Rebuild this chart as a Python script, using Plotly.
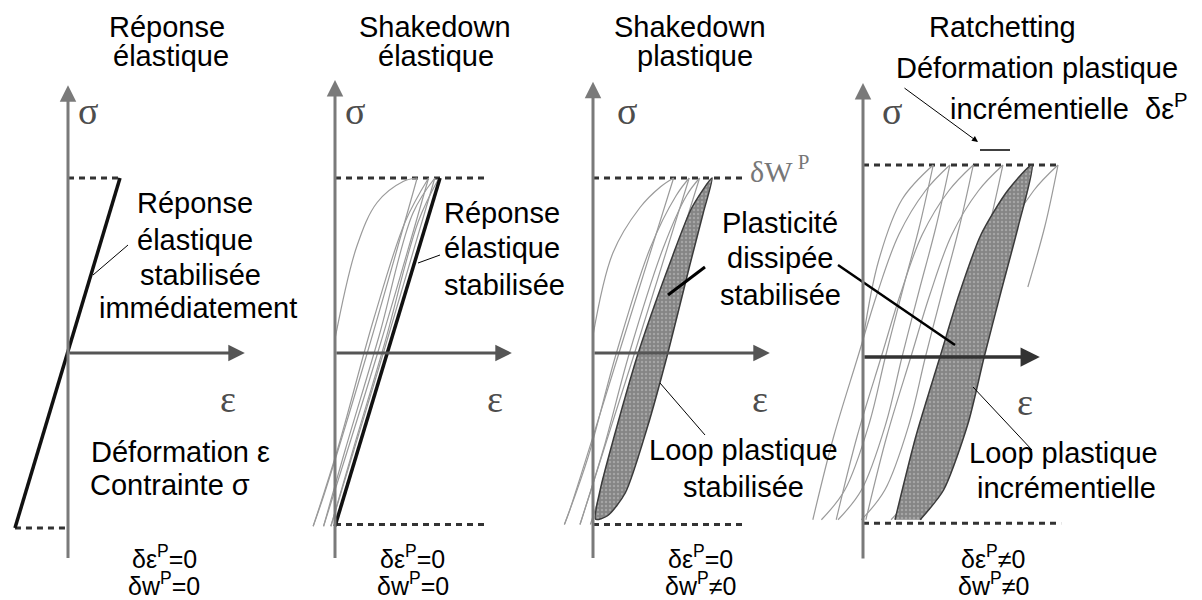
import plotly.graph_objects as go

# ---------------- canvas ----------------
W, H = 1202, 600
PX_PER_EPS = 52.0      # pixels per strain unit
PX_PER_SIG = 175.0     # pixels per stress unit

# ---------------- panel frame data (eps / sigma units) ----------------
PANEL_TITLES = [["Réponse", "élastique"], ["Shakedown", "élastique"],
                ["Shakedown", "plastique"], ["Ratchetting"]]
PANEL_ORIGIN_X = [68, 335, 593, 863]          # where the axes cross (px)
PANEL_ORIGIN_Y = [353, 353, 353, 357]
SIG_MAX = [1.0, 1.0, 1.0, 1.097]
SIG_MIN = [-1.0, -0.98, -0.98, -0.95]
SIG_AXIS_TIP = [1.53, 1.56, 1.55, 1.566]
SIG_AXIS_END = [-1.18, -1.18, -1.18, -1.16]
EPS_AXIS_TIP = [3.4, 3.4, 3.4, 3.4]
DASH_TOP = [(0.0, 1.0), (0.0, 2.92), (0.0, 2.92), (0.0, 3.75)]
DASH_BOT = [(-1.02, 0.0), (0.0, 2.92), (0.0, 2.92), (0.0, 3.81)]

BOTTOM_EPS_P = ["δε<sup>P</sup>=0", "δε<sup>P</sup>=0", "δε<sup>P</sup>=0", "δε<sup>P</sup>≠0"]
BOTTOM_W_P = ["δw<sup>P</sup>=0", "δw<sup>P</sup>=0", "δw<sup>P</sup>≠0", "δw<sup>P</sup>≠0"]

# ---------------- panel 1 : elastic response ----------------
P1_ELASTIC_EPS = [-1.02, 1.0]
P1_ELASTIC_SIG = [-1.0, 1.0]

# ---------------- panel 2 : elastic shakedown ----------------
P2_THIN = [
    [(0.0, 0.08), (0.42, 0.61), (0.81, 0.86), (1.31, 0.98), (1.58, 1.0)],
    [(1.58, 1.0), (0.62, 0.0), (-0.2, -0.8), (-0.42, -0.99)],
    [(-0.42, -0.99), (0.05, -0.55), (0.75, 0.2), (1.35, 0.75), (1.80, 1.0)],
    [(1.80, 1.0), (0.82, 0.0), (-0.22, -0.99)],
    [(-0.22, -0.99), (0.2, -0.55), (0.85, 0.1), (1.5, 0.8), (1.92, 1.0)],
    [(1.92, 1.0), (0.93, 0.0), (-0.08, -0.99)],
    [(-0.08, -0.99), (0.35, -0.55), (0.95, 0.05), (1.6, 0.75), (2.0, 1.0)],
]
P2_STAB_EPS = [0.0, 2.02]
P2_STAB_SIG = [-0.99, 1.0]

# ---------------- panel 3 : plastic shakedown ----------------
P3_THIN = [
    [(0.0, 0.1), (0.38, 0.57), (0.9, 0.83), (1.3, 0.95), (1.55, 1.0)],
    [(1.55, 1.0), (0.5, 0.0), (-0.45, -0.9), (-0.55, -0.98)],
    [(-0.55, -0.98), (-0.1, -0.6), (0.45, 0.0), (1.1, 0.6), (1.6, 0.9), (1.85, 1.0)],
    [(1.85, 1.0), (0.8, 0.0), (-0.25, -0.98)],
    [(-0.25, -0.98), (0.2, -0.55), (0.7, 0.0), (1.35, 0.6), (1.8, 0.9), (2.05, 1.0)],
    [(2.05, 1.0), (1.0, 0.0), (-0.05, -0.98)],
]
P3_LOOP_LEFT = [(0.05, -0.95), (0.14, -0.78), (0.46, -0.42), (0.87, 0.0),
                (1.5, 0.53), (1.9, 0.83), (2.29, 1.0)]
P3_LOOP_RIGHT = [(2.29, 1.0), (2.12, 0.8), (1.86, 0.5), (1.44, 0.0),
                 (1.05, -0.42), (0.62, -0.8), (0.28, -0.93), (0.05, -0.95)]

# ---------------- panel 4 : ratchetting ----------------
P4_FIRST = [(0.0, 0.1), (0.3, 0.55), (0.75, 0.9), (1.35, 1.097)]
P4_LOOP_LEFT = [(0.615, -0.93), (1.02, -0.45), (1.48, 0.0), (1.85, 0.36),
                (2.27, 0.7), (2.78, 0.95), (3.25, 1.097)]
P4_LOOP_RIGHT = [(3.25, 1.097), (2.98, 0.74), (2.66, 0.38), (2.33, 0.0),
                 (2.02, -0.38), (1.55, -0.76), (1.1, -0.93)]
P4_UNLOAD_SHIFTS = [-1.9, -1.58, -1.13, -0.56]
P4_RELOAD_SHIFTS = [-1.58, -1.13, -0.56, 0.5]
P4_LAST_UNLOAD = [(3.75, 1.097), (3.5, 0.75), (3.17, 0.4)]

# ---------------- styles ----------------
SANS = "Liberation Sans, Arial, sans-serif"
SERIF = "Liberation Serif, Times New Roman, serif"
THIN = dict(color="#9a9a9a", width=1.2, shape="spline", smoothing=1.0)

fig = go.Figure()


def ax_names(i):
    return ("x" if i == 0 else f"x{i+1}"), ("y" if i == 0 else f"y{i+1}")


def add_line(i, xs, ys, **line):
    xa, ya = ax_names(i)
    fig.add_trace(go.Scatter(x=xs, y=ys, mode="lines", line=line, xaxis=xa, yaxis=ya,
                             hoverinfo="skip", showlegend=False))


def add_curve(i, pts, **line):
    add_line(i, [p[0] for p in pts], [p[1] for p in pts], **line)


def add_loop(i, left, right):
    pts = left + right[1:]
    xa, ya = ax_names(i)
    fig.add_trace(go.Scatter(
        x=[p[0] for p in pts], y=[p[1] for p in pts], mode="lines", fill="toself",
        line=dict(color="#3a3a3a", width=1.5, shape="spline", smoothing=0.7),
        fillcolor="#858585",
        fillpattern=dict(shape=".", bgcolor="#858585", fgcolor="#c4c4c4", size=4, solidity=0.3),
        xaxis=xa, yaxis=ya, hoverinfo="skip", showlegend=False))


annotations = []
shapes = []

for i in range(4):
    xa, ya = ax_names(i)
    # vertical axis
    annotations.append(dict(x=0, y=SIG_AXIS_TIP[i], ax=0, ay=SIG_AXIS_END[i],
                            xref=xa, yref=ya, axref=xa, ayref=ya, text="", showarrow=True,
                            arrowhead=2, arrowsize=1.1, arrowwidth=3, arrowcolor="#7a7a7a"))
    # horizontal axis
    annotations.append(dict(x=EPS_AXIS_TIP[i], y=0, ax=0, ay=0,
                            xref=xa, yref=ya, axref=xa, ayref=ya, text="", showarrow=True,
                            arrowhead=2, arrowsize=1.1, arrowwidth=3 if i < 3 else 3.5,
                            arrowcolor="#555555" if i < 3 else "#333333"))
    # dashed sigma limits
    add_line(i, list(DASH_TOP[i]), [SIG_MAX[i]] * 2, color="#333333", width=3, dash="6px,5px")
    add_line(i, list(DASH_BOT[i]), [SIG_MIN[i]] * 2, color="#333333", width=3, dash="6px,5px")

# panel 1
add_line(0, P1_ELASTIC_EPS, P1_ELASTIC_SIG, color="#111111", width=3.5)
# panel 2
for c in P2_THIN:
    add_curve(1, c, **THIN)
add_line(1, P2_STAB_EPS, P2_STAB_SIG, color="#111111", width=3.5)
# panel 3
for c in P3_THIN:
    add_curve(2, c, **THIN)
add_loop(2, P3_LOOP_LEFT, P3_LOOP_RIGHT)
# panel 4
add_curve(3, P4_FIRST, **THIN)
for s in P4_UNLOAD_SHIFTS:
    add_curve(3, [(e + s, g) for e, g in P4_LOOP_RIGHT], **THIN)
for s in P4_RELOAD_SHIFTS:
    add_curve(3, [(e + s, g) for e, g in P4_LOOP_LEFT], **THIN)
add_curve(3, P4_LAST_UNLOAD, **THIN)
add_loop(3, P4_LOOP_LEFT, P4_LOOP_RIGHT)


# ---------------- text helpers (layout positions in px) ----------------
def txt(x, baseline, s, size=29, anchor="center", color="black", family=SANS):
    annotations.append(dict(x=x / W, y=1 - (baseline - 0.35 * size) / H, xref="paper", yref="paper",
                            text=s, showarrow=False, xanchor=anchor, yanchor="middle",
                            font=dict(size=size, color=color, family=family)))


def seg(x0, y0, x1, y1, width=1, color="black"):
    shapes.append(dict(type="line", xref="paper", yref="paper", x0=x0 / W, y0=1 - y0 / H,
                       x1=x1 / W, y1=1 - y1 / H, line=dict(color=color, width=width)))


TITLE_X = [[167, 171], [435, 436], [690, 695], [1002]]
for i, lines in enumerate(PANEL_TITLES):
    for j, t in enumerate(lines):
        txt(TITLE_X[i][j], [37, 66][j], t)

GREEK_SIGMA_X = [88, 355, 627, 892]
GREEK_EPS_X = [228, 495, 760, 1025]
for i in range(4):
    txt(GREEK_SIGMA_X[i], 124, "σ", size=38, color="#4d4d4d", family=SERIF)
    txt(GREEK_EPS_X[i], 412 if i < 3 else 415, "ε", size=38, color="#4d4d4d", family=SERIF)

BOTTOM_X = [164, 413, 700, 993]
for i in range(4):
    txt(BOTTOM_X[i], 566, BOTTOM_EPS_P[i], size=25)
    txt(BOTTOM_X[i], 593, BOTTOM_W_P[i], size=25)

# panel 1 notes
for t, bl, cx in [("Réponse", 213, 195), ("élastique", 250, 195),
                  ("stabilisée", 285, 200), ("immédiatement", 318, 198)]:
    txt(cx, bl, t)
txt(89, 462, "Déformation ε", anchor="left")
txt(88, 495, "Contrainte σ", anchor="left")
seg(93, 275, 128, 245)

# panel 2 notes
for t, bl in [("Réponse", 223), ("élastique", 258), ("stabilisée", 295)]:
    txt(442, bl, t, anchor="left")
seg(418, 263, 440, 255)

# panel 3 notes
txt(748, 180, "δW<sup> P</sup>", size=30, anchor="left", color="#777777", family=SERIF)
for t, bl in [("Plasticité", 233), ("dissipée", 268), ("stabilisée", 305)]:
    txt(780, bl, t)
seg(668, 295, 705, 267, width=3)
seg(838, 265, 955, 345, width=2.5)
txt(743, 460, "Loop plastique")
txt(743, 497, "stabilisée")
seg(660, 383, 705, 435)

# panel 4 notes
txt(1037, 78, "Déformation plastique")
txt(948, 117, "incrémentielle  δε<sup>P</sup>", anchor="left")
annotations.append(dict(x=978 / W, y=1 - 142 / H, xref="paper", yref="paper", ax=-75, ay=-55,
                        text="", showarrow=True, arrowhead=2, arrowsize=1.2, arrowwidth=1,
                        arrowcolor="black"))
seg(980, 150, 1010, 150, width=1.5)
txt(1063, 463, "Loop plastique")
txt(1066, 498, "incrémentielle")
seg(973, 387, 1032, 450)

# ---------------- layout: overlaid eps/sigma axes, one per panel ----------------
layout = dict(width=W, height=H, margin=dict(l=0, r=0, t=0, b=0), autosize=False,
              paper_bgcolor="white", plot_bgcolor="white", showlegend=False,
              annotations=annotations, shapes=shapes)
for i in range(4):
    xk = "xaxis" if i == 0 else f"xaxis{i+1}"
    yk = "yaxis" if i == 0 else f"yaxis{i+1}"
    ox, oy = PANEL_ORIGIN_X[i], PANEL_ORIGIN_Y[i]
    xr = [-ox / PX_PER_EPS, (W - ox) / PX_PER_EPS]
    yr = [-(H - oy) / PX_PER_SIG, oy / PX_PER_SIG]
    xd = dict(range=xr, domain=[0, 1], visible=False, fixedrange=True)
    yd = dict(range=yr, domain=[0, 1], visible=False, fixedrange=True)
    if i > 0:
        xd.update(overlaying="x", anchor=f"y{i+1}")
        yd.update(overlaying="y", anchor=f"x{i+1}")
    layout[xk] = xd
    layout[yk] = yd
fig.update_layout(**layout)

fig.write_html("out.html", config=dict(displayModeBar=False),
               post_script="document.body.style.margin='0';document.body.style.overflow='hidden';")
